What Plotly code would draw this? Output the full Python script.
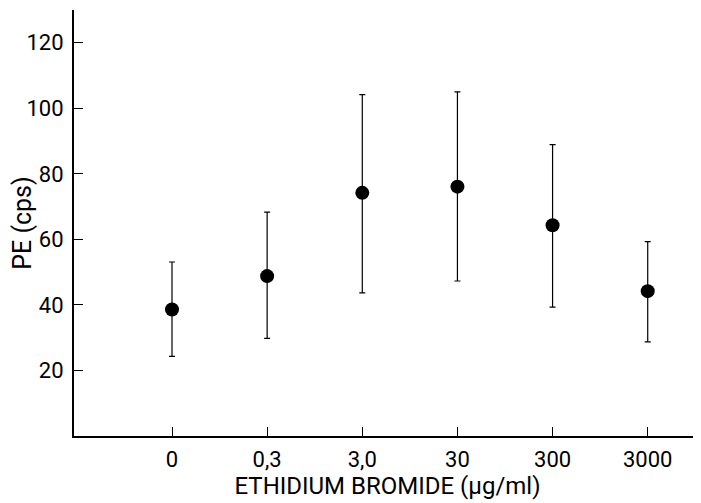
import plotly.graph_objects as go

categories = ["0", "0,3", "3,0", "30", "300", "3000"]
pe_mean = [38.6, 48.8, 74.2, 76.1, 64.3, 44.2]
pe_upper = [53.1, 68.3, 104.2, 105.0, 88.9, 59.3]
pe_lower = [24.3, 29.8, 43.7, 47.3, 39.3, 28.7]
y_ticks = [20, 40, 60, 80, 100, 120]

err_plus = [u - m for u, m in zip(pe_upper, pe_mean)]
err_minus = [m - l for m, l in zip(pe_mean, pe_lower)]

font_family = "Roboto, DejaVu Sans, sans-serif"
tick_font = dict(family=font_family, size=22, color="black")

fig = go.Figure()
fig.add_trace(go.Scatter(
    x=categories,
    y=pe_mean,
    mode="markers",
    marker=dict(color="black", size=14),
    error_y=dict(type="data", symmetric=False, array=err_plus, arrayminus=err_minus,
                 color="black", thickness=1.2, width=3),
    showlegend=False,
))

# page body has an 8px margin, so the figure is sized to 693x495
fig.update_layout(
    width=693, height=495,
    margin=dict(l=66, r=0, t=2, b=67, autoexpand=False),
    paper_bgcolor="white", plot_bgcolor="white",
    font=dict(family=font_family, size=22, color="black"),
    xaxis=dict(
        type="category", categoryorder="array", categoryarray=categories,
        range=[-1.03, 5.56],
        showline=True, linecolor="black", linewidth=2,
        ticks="inside", ticklen=9, tickwidth=1.2, tickcolor="black",
        tickfont=tick_font,
        showgrid=False, zeroline=False, automargin=False,
        title=dict(text="ETHIDIUM BROMIDE (µg/ml)", standoff=6,
                   font=dict(family=font_family, size=24)),
        ticklabelstandoff=3,
    ),
    yaxis=dict(
        range=[0, 130],
        tickvals=y_ticks, ticktext=[str(v) for v in y_ticks],
        showline=True, linecolor="black", linewidth=2,
        ticks="inside", ticklen=9, tickwidth=1.2, tickcolor="black",
        tickfont=tick_font,
        showgrid=False, zeroline=False, automargin=False,
        title=dict(text="PE (cps)", standoff=4,
                   font=dict(family=font_family, size=25)),
        ticklabelstandoff=4,
    ),
)

fig.write_html("out.html")
